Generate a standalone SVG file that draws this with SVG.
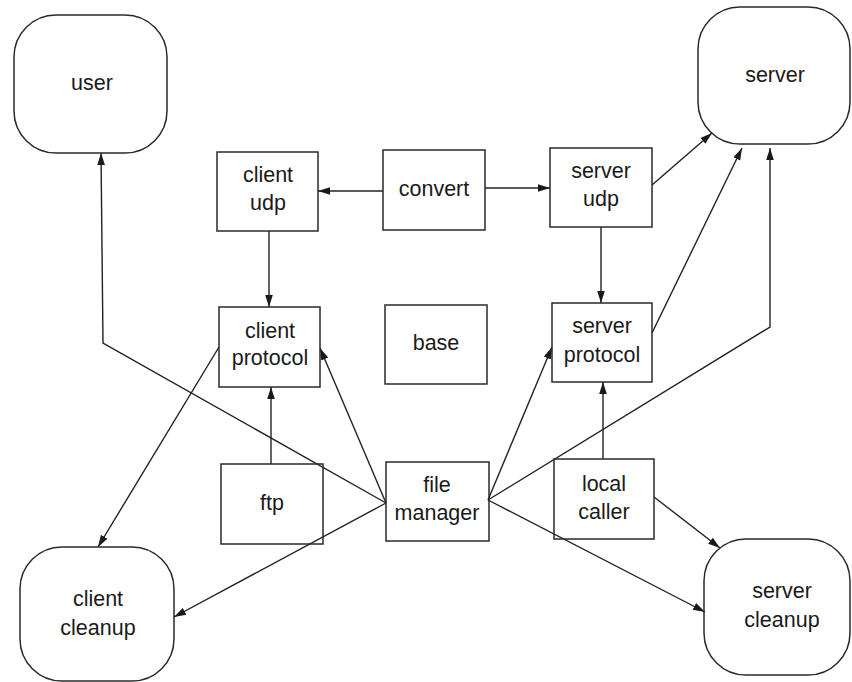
<svg xmlns="http://www.w3.org/2000/svg" width="852" height="682" viewBox="0 0 852 682">
  <style>
    .box { fill: none; stroke: #2a2a2a; stroke-width: 1.5; }
    .term { fill: none; stroke: #2a2a2a; stroke-width: 1.5; }
    .lbl { font-family: "Liberation Sans", Arial, sans-serif; font-size: 21.5px; fill: #1a1a1a; text-anchor: middle; }
    .edge { fill: none; stroke: #222; stroke-width: 1.4; marker-end: url(#arr); }
  </style>
  <defs>
    <marker id="arr" markerUnits="userSpaceOnUse" markerWidth="14" markerHeight="10" refX="12" refY="5" orient="auto">
      <path d="M0,1.2 L12,5 L0,8.8 Z" fill="#1a1a1a"/>
    </marker>
  </defs>
  <rect width="852" height="682" fill="#fff"/>

  <g id="connectors">
    <line class="edge" x1="383" y1="191" x2="318" y2="191"/>
    <line class="edge" x1="485" y1="188" x2="550" y2="188"/>
    <line class="edge" x1="269" y1="231" x2="269" y2="307"/>
    <line class="edge" x1="601" y1="227" x2="601" y2="303"/>
    <line class="edge" x1="652" y1="185" x2="712" y2="133"/>
    <line class="edge" x1="652" y1="333" x2="742" y2="148"/>
    <polyline class="edge" points="488,500 770,327 770,148"/>
    <polyline class="edge" points="386,503 103,343 101,153"/>
    <line class="edge" x1="386" y1="503" x2="320" y2="348"/>
    <line class="edge" x1="271" y1="464" x2="271" y2="387"/>
    <line class="edge" x1="219" y1="347" x2="98" y2="547"/>
    <line class="edge" x1="386" y1="503" x2="174" y2="617"/>
    <line class="edge" x1="488" y1="500" x2="552" y2="347"/>
    <line class="edge" x1="603" y1="459" x2="603" y2="382"/>
    <line class="edge" x1="654" y1="497" x2="720" y2="548"/>
    <line class="edge" x1="488" y1="500" x2="705" y2="612"/>
  </g>

  <g id="user">
    <rect class="term" x="14" y="15" width="153" height="138" rx="42" ry="42"/>
    <text class="lbl" x="92" y="90">user</text>
  </g>
  <g id="server">
    <rect class="term" x="698" y="7" width="152" height="137" rx="42" ry="42"/>
    <text class="lbl" x="775" y="82">server</text>
  </g>
  <g id="client-cleanup">
    <rect class="term" x="20" y="547" width="154" height="134" rx="42" ry="42"/>
    <text class="lbl" x="98" y="606">client</text>
    <text class="lbl" x="98" y="635">cleanup</text>
  </g>
  <g id="server-cleanup">
    <rect class="term" x="704" y="539" width="146" height="136" rx="42" ry="42"/>
    <text class="lbl" x="782" y="598">server</text>
    <text class="lbl" x="782" y="627">cleanup</text>
  </g>

  <g id="client-udp">
    <rect class="box" x="217" y="152" width="101" height="79"/>
    <text class="lbl" x="268" y="182">client</text>
    <text class="lbl" x="268" y="210">udp</text>
  </g>
  <g id="convert">
    <rect class="box" x="383" y="150" width="102" height="80"/>
    <text class="lbl" x="434" y="196">convert</text>
  </g>
  <g id="server-udp">
    <rect class="box" x="550" y="148" width="102" height="79"/>
    <text class="lbl" x="601" y="178">server</text>
    <text class="lbl" x="601" y="206">udp</text>
  </g>
  <g id="client-protocol">
    <rect class="box" x="219" y="307" width="101" height="80"/>
    <text class="lbl" x="270" y="338">client</text>
    <text class="lbl" x="270" y="365">protocol</text>
  </g>
  <g id="base">
    <rect class="box" x="385" y="305" width="102" height="79"/>
    <text class="lbl" x="436" y="350">base</text>
  </g>
  <g id="server-protocol">
    <rect class="box" x="552" y="303" width="100" height="79"/>
    <text class="lbl" x="602" y="333">server</text>
    <text class="lbl" x="602" y="362">protocol</text>
  </g>
  <g id="ftp">
    <rect class="box" x="221" y="464" width="102" height="80"/>
    <text class="lbl" x="272" y="510">ftp</text>
  </g>
  <g id="file-manager">
    <rect class="box" x="386" y="462" width="103" height="79"/>
    <text class="lbl" x="437" y="492">file</text>
    <text class="lbl" x="437" y="520">manager</text>
  </g>
  <g id="local-caller">
    <rect class="box" x="554" y="459" width="100" height="80"/>
    <text class="lbl" x="604" y="491">local</text>
    <text class="lbl" x="604" y="519">caller</text>
  </g>
</svg>
